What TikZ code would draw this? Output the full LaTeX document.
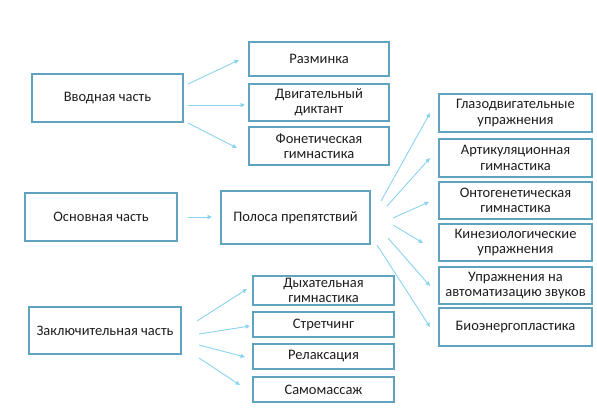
\documentclass[tikz,border=0pt]{standalone}
\usepackage{fontspec}
\setmainfont{Carlito}
\usetikzlibrary{arrows.meta}
\definecolor{boxline}{HTML}{5FA3BE}
\definecolor{arrline}{HTML}{8AD3EE}
\definecolor{txt}{HTML}{1E1E1E}
\tikzset{
  box/.style={draw=boxline, line width=1.4, fill=white, text=txt, align=center, inner sep=0,
    font=\fontsize{14.5}{15.5}\selectfont},
  arr/.style={draw=arrline, line width=0.9, -{Triangle[length=4.5,width=4]}}
}
\begin{document}
\begin{tikzpicture}[x=1pt,y=-1pt]
\useasboundingbox (0,0) rectangle (597,418);
% left column
\node[box, minimum width=151, minimum height=48] (v) at (107.5,98) {Вводная часть};
\node[box, minimum width=152, minimum height=48] (o) at (101,217) {Основная часть};
\node[box, minimum width=152, minimum height=47] (z) at (105,330.5) {Заключительная часть};
% middle column
\node[box, minimum width=140, minimum height=34] (r1) at (319,59) {Разминка};
\node[box, minimum width=140, minimum height=37] (r2) at (319,102.5) {Двигательный\\диктант};
\node[box, minimum width=140, minimum height=38] (r3) at (319,146) {Фонетическая\\гимнастика};
\node[box, minimum width=149, minimum height=53] (p) at (295.5,217.5) {Полоса препятствий};
\node[box, minimum width=141, minimum height=29] (d1) at (323.5,290.5) {Дыхательная\\гимнастика};
\node[box, minimum width=141, minimum height=25] (d2) at (323.5,324.5) {Стретчинг};
\node[box, minimum width=141, minimum height=25] (d3) at (323.5,356.5) {Релаксация};
\node[box, minimum width=141, minimum height=25] (d4) at (323.5,389.5) {Самомассаж};
% right column
\node[box, minimum width=153, minimum height=38] (g1) at (515.5,113) {Глазодвигательные\\упражнения};
\node[box, minimum width=153, minimum height=38] (g2) at (515.5,158) {Артикуляционная\\гимнастика};
\node[box, minimum width=153, minimum height=37] (g3) at (515.5,200.5) {Онтогенетическая\\гимнастика};
\node[box, minimum width=153, minimum height=37] (g4) at (515.5,242.5) {Кинезиологические\\упражнения};
\node[box, minimum width=153, minimum height=37] (g5) at (515.5,285.5) {Упражнения на\\автоматизацию звуков};
\node[box, minimum width=153, minimum height=38] (g6) at (515.5,327) {Биоэнергопластика};
% arrow end points
\coordinate (va) at (188,84);  \coordinate (r1a) at (239,60);
\coordinate (vb) at (188,105); \coordinate (r2a) at (245,105);
\coordinate (vc) at (188,123); \coordinate (r3a) at (237,148);
\coordinate (oa) at (188,217); \coordinate (pa) at (212,217);
\coordinate (p1) at (381,201); \coordinate (g1a) at (430,113);
\coordinate (p2) at (387,206); \coordinate (g2a) at (430,158);
\coordinate (p3) at (393,218); \coordinate (g3a) at (429,202);
\coordinate (p4) at (393,225); \coordinate (g4a) at (423,243);
\coordinate (p5) at (388,238); \coordinate (g5a) at (430,286);
\coordinate (p6) at (377,245); \coordinate (g6a) at (430,327);
\coordinate (za) at (197,321); \coordinate (d1a) at (247,289);
\coordinate (zb) at (199,334); \coordinate (d2a) at (250,326);
\coordinate (zc) at (199,345); \coordinate (d3a) at (245,357);
\coordinate (zd) at (199,358); \coordinate (d4a) at (240,385);
% arrows
\draw[arr] (va) -- (r1a);
\draw[arr] (vb) -- (r2a);
\draw[arr] (vc) -- (r3a);
\draw[arr] (oa) -- (pa);
\draw[arr] (p1) -- (g1a);
\draw[arr] (p2) -- (g2a);
\draw[arr] (p3) -- (g3a);
\draw[arr] (p4) -- (g4a);
\draw[arr] (p5) -- (g5a);
\draw[arr] (p6) -- (g6a);
\draw[arr] (za) -- (d1a);
\draw[arr] (zb) -- (d2a);
\draw[arr] (zc) -- (d3a);
\draw[arr] (zd) -- (d4a);
\end{tikzpicture}
\end{document}
